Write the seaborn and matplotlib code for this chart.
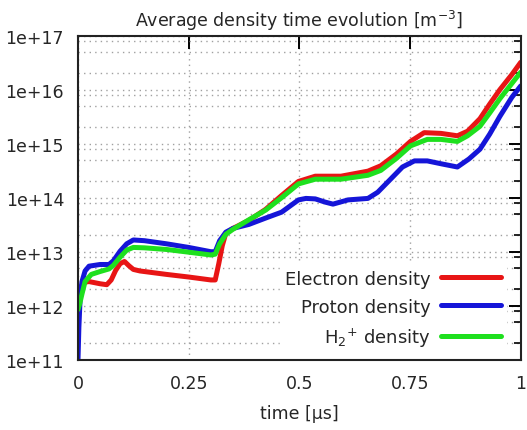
import numpy as np
import pandas as pd
import matplotlib
matplotlib.use("Agg")
import matplotlib.pyplot as plt
import matplotlib.ticker as mticker
import seaborn as sns

# ---- data ----
t_electron = [0.0, 0.004, 0.012, 0.025, 0.05, 0.065, 0.075, 0.085, 0.095, 0.105,
              0.115, 0.125, 0.14, 0.2, 0.25, 0.30, 0.31, 0.318, 0.326, 0.334,
              0.35, 0.386, 0.424, 0.46, 0.498, 0.536, 0.594, 0.655, 0.684, 0.72,
              0.751, 0.782, 0.82, 0.857, 0.88, 0.908, 0.93, 0.953, 0.98, 1.0]
n_electron = [1.1e12, 2.0e12, 2.7e12, 2.8e12, 2.55e12, 2.45e12, 3.0e12, 4.5e12, 6.0e12, 6.6e12,
              5.5e12, 4.7e12, 4.4e12, 3.8e12, 3.4e12, 3.0e12, 3.0e12, 6.0e12, 1.3e13, 2.2e13,
              2.7e13, 3.8e13, 6.1e13, 1.1e14, 2.0e14, 2.5e14, 2.5e14, 3.1e14, 3.9e14, 6.5e14,
              1.1e15, 1.6e15, 1.55e15, 1.4e15, 1.7e15, 2.9e15, 5.4e15, 1.0e16, 1.9e16, 3.2e16]

t_proton = [0.0, 0.002, 0.005, 0.009, 0.016, 0.025, 0.05, 0.07, 0.08, 0.095,
            0.11, 0.125, 0.15, 0.2, 0.25, 0.30, 0.31, 0.32, 0.334, 0.35,
            0.386, 0.424, 0.46, 0.498, 0.515, 0.536, 0.558, 0.576, 0.61, 0.655,
            0.677, 0.706, 0.733, 0.76, 0.789, 0.823, 0.857, 0.883, 0.908, 0.93,
            0.953, 0.98, 1.0]
n_proton = [1.0e11, 4.0e11, 1.5e12, 2.8e12, 4.4e12, 5.4e12, 5.8e12, 5.8e12, 6.8e12, 1.02e13,
            1.4e13, 1.65e13, 1.6e13, 1.4e13, 1.2e13, 1.0e13, 1.0e13, 1.6e13, 2.3e13, 2.7e13,
            3.2e13, 4.2e13, 5.4e13, 9.1e13, 9.7e13, 9.5e13, 8.3e13, 7.6e13, 9.1e13, 9.7e13,
            1.26e14, 2.2e14, 3.7e14, 4.8e14, 4.8e14, 4.2e14, 3.7e14, 5.2e14, 7.9e14, 1.5e15,
            3.2e15, 7.2e15, 1.17e16]

t_h2 = [0.0, 0.004, 0.009, 0.016, 0.03, 0.05, 0.07, 0.08, 0.095, 0.11,
        0.125, 0.15, 0.2, 0.25, 0.30, 0.31, 0.32, 0.334, 0.35, 0.386,
        0.424, 0.46, 0.498, 0.536, 0.594, 0.655, 0.684, 0.72, 0.751, 0.789,
        0.82, 0.857, 0.88, 0.908, 0.93, 0.953, 0.98, 1.0]
n_h2 = [8.5e11, 1.1e12, 1.65e12, 2.8e12, 3.8e12, 4.3e12, 4.8e12, 5.6e12, 7.9e12, 1.07e13,
        1.2e13, 1.18e13, 1.1e13, 9.8e12, 8.7e12, 9.0e12, 1.4e13, 2.1e13, 2.6e13, 3.9e13,
        5.9e13, 1.0e14, 1.8e14, 2.2e14, 2.2e14, 2.6e14, 3.2e14, 5.4e14, 9.1e14, 1.2e15,
        1.2e15, 1.1e15, 1.4e15, 2.1e15, 3.7e15, 6.8e15, 1.3e16, 2.1e16]

series_names = ["Electron density", "Proton density", "H$_2$$^{+}$ density"]
x_ticks = [0, 0.25, 0.5, 0.75, 1]
x_tick_labels = ["0", "0.25", "0.5", "0.75", "1"]

# ---- build long table ----
df = pd.concat([
    pd.DataFrame({"t": t_electron, "n": n_electron, "species": series_names[0]}),
    pd.DataFrame({"t": t_proton, "n": n_proton, "species": series_names[1]}),
    pd.DataFrame({"t": t_h2, "n": n_h2, "species": series_names[2]}),
], ignore_index=True)

sns.set_theme(style="white")
plt.rcParams["font.family"] = ["DejaVu Sans"]
plt.rcParams["mathtext.default"] = "regular"

palette = {series_names[0]: "#e81515", series_names[1]: "#1515d8", series_names[2]: "#1ee01e"}

fig = plt.figure(figsize=(5.27, 4.31), dpi=100)
ax = fig.add_axes([0.148, 0.163, 0.840, 0.752])

sns.lineplot(data=df, x="t", y="n", hue="species", palette=palette,
             hue_order=series_names, estimator=None, sort=False,
             linewidth=3.6, ax=ax, legend=True)

ax.set_yscale("log")
ax.set_xlim(0, 1)
ax.set_ylim(1e11, 1e17)

ax.yaxis.set_major_locator(mticker.LogLocator(base=10, numticks=20))
ax.yaxis.set_minor_locator(mticker.LogLocator(base=10, subs=(2.0, 5.0, 8.0), numticks=20))
ax.yaxis.set_major_formatter(mticker.FuncFormatter(lambda v, p: "1e+%d" % int(round(np.log10(v)))))
ax.yaxis.set_minor_formatter(mticker.NullFormatter())
ax.set_xticks(x_ticks)
ax.set_xticklabels(x_tick_labels)

text_color = "#262626"
ax.tick_params(which="both", direction="in", top=True, right=True, colors="black",
               labelcolor=text_color, labelsize=12.5)
ax.tick_params(which="major", length=9, width=1.4, pad=10)
ax.tick_params(which="minor", length=5, width=1.2)

ax.grid(True, which="major", axis="both", color="#a0a0a0", linestyle=(0, (1, 3)), linewidth=1.0)
ax.grid(True, which="minor", axis="y", color="#a0a0a0", linestyle=(0, (1, 3)), linewidth=1.0)
ax.set_axisbelow(True)

for s in ax.spines.values():
    s.set_color("#222222")
    s.set_linewidth(1.5)

ax.set_xlabel("time [µs]", fontsize=12.5, color=text_color, labelpad=9)
ax.set_ylabel("")
ax.set_title("Average density time evolution [m$^{-3}$]", fontsize=12.5, color=text_color, pad=7)

handles, labels = ax.get_legend_handles_labels()
leg = ax.legend(handles, labels, loc="lower right", bbox_to_anchor=(0.98, 0.0),
                markerfirst=False, fontsize=13,
                handlelength=3.3, handletextpad=0.6, labelspacing=0.55,
                borderpad=0.3, borderaxespad=0.3, frameon=True, fancybox=False,
                facecolor="white", edgecolor="white", framealpha=1.0)
for txt in leg.get_texts():
    txt.set_color(text_color)
for line in leg.get_lines():
    line.set_linewidth(3.6)

fig.savefig("out.png", dpi=100)
